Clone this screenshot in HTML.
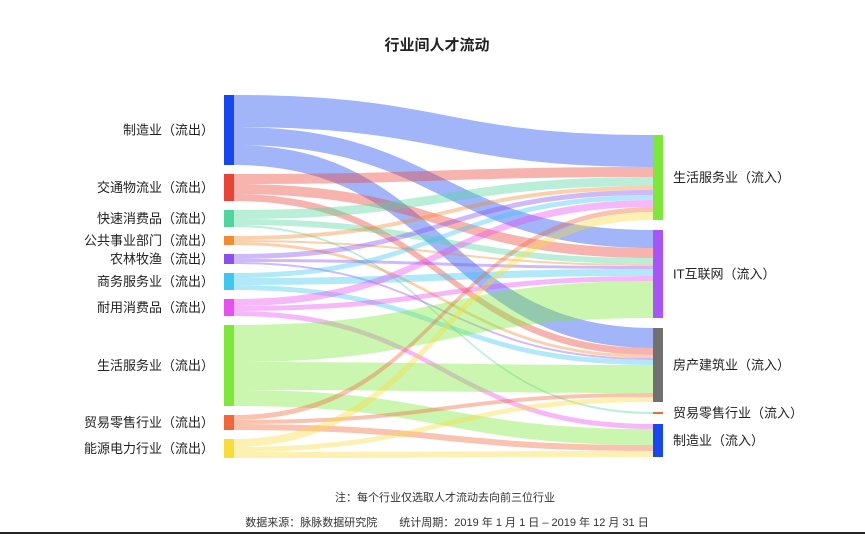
<!DOCTYPE html>
<html><head><meta charset="utf-8">
<style>
body{margin:0;background:#fff;width:865px;height:534px;overflow:hidden;font-family:"Liberation Sans","Noto Sans CJK SC",sans-serif;}
svg text{font-family:"Liberation Sans","Noto Sans CJK SC",sans-serif;}
</style></head>
<body>
<svg id="chart" width="865" height="534" viewBox="0 0 865 534" xmlns="http://www.w3.org/2000/svg">
<text x="437" y="50" text-anchor="middle" font-size="15" font-weight="bold" fill="#222">行业间人才流动</text>
<g id="links"></g>
<g id="nodes"></g>
<text x="445" y="501" text-anchor="middle" font-size="11" fill="#333">注：每个行业仅选取人才流动去向前三位行业</text>
<text x="447" y="526" text-anchor="middle" font-size="11" fill="#333">数据来源：脉脉数据研究院　　统计周期：2019 年 1 月 1 日 – 2019 年 12 月 31 日</text>
<rect x="0" y="532" width="865" height="2" fill="#222"/>
</svg>
<script>
const sources = ["制造业（流出）","交通物流业（流出）","快速消费品（流出）","公共事业部门（流出）","农林牧渔（流出）","商务服务业（流出）","耐用消费品（流出）","生活服务业（流出）","贸易零售行业（流出）","能源电力行业（流出）"];
const sourceColors = ["#1747ee","#ea4336","#4fd6a0","#f28c30","#8a4ff0","#3cc8f0","#e84ef0","#7ee83a","#f0683a","#f8dc3a"];
const targets = ["生活服务业（流入）","IT互联网（流入）","房产建筑业（流入）","贸易零售行业（流入）","制造业（流入）"];
const targetColors = ["#7ee83a","#a855f7","#707070","#f0683a","#1747ee"];
const linkSource = [0,0,0, 1,1,1, 2,2,2, 3,3,3, 4,4,4, 5,5,5, 6,6,6, 7,7,7, 8,8,8, 9,9,9];
const linkTarget = [0,1,2, 0,1,2, 0,1,3, 0,1,2, 0,1,2, 0,1,2, 0,1,4, 1,2,4, 0,2,4, 0,2,4];
const linkValue  = [32,18,20, 10,10,7, 9,6,2, 4,2,3, 5,3,2, 5,7,5, 7,5,5, 37,28,16, 5,4,6, 8,5,6];

const NS="http://www.w3.org/2000/svg";
const leftX=224, rightX=653, nodeW=10, leftTop=95, rightTop=135, leftGap=9, rightGap=10, k=1.0;
function sumFor(arr,i){let s=0;for(let j=0;j<linkValue.length;j++) if(arr[j]===i) s+=linkValue[j];return s;}
const sY=[],sH=[];let y=leftTop;
sources.forEach((n,i)=>{sY[i]=y;sH[i]=sumFor(linkSource,i)*k;y+=sH[i]+leftGap;});
const tY=[],tH=[];y=rightTop;
targets.forEach((n,i)=>{tY[i]=y;tH[i]=sumFor(linkTarget,i)*k;y+=tH[i]+rightGap;});
const sOff=sY.slice(), tOff=tY.slice();
const order=linkValue.map((v,i)=>i).sort((a,b)=>linkSource[a]-linkSource[b]||linkTarget[a]-linkTarget[b]);
const src={},tgt={};
order.forEach(i=>{src[i]=sOff[linkSource[i]];sOff[linkSource[i]]+=linkValue[i]*k;});
const order2=linkValue.map((v,i)=>i).sort((a,b)=>linkTarget[a]-linkTarget[b]||linkSource[a]-linkSource[b]);
order2.forEach(i=>{tgt[i]=tOff[linkTarget[i]];tOff[linkTarget[i]]+=linkValue[i]*k;});
const gL=document.getElementById('links');
const x0=leftX+nodeW,x1=rightX,xm=(x0+x1)/2;
linkValue.forEach((v,i)=>{
  const h=v*k,a=src[i],b=tgt[i];
  const p=document.createElementNS(NS,'path');
  p.setAttribute('d',`M${x0},${a}C${xm},${a} ${xm},${b} ${x1},${b}L${x1},${b+h}C${xm},${b+h} ${xm},${a+h} ${x0},${a+h}Z`);
  p.setAttribute('fill',sourceColors[linkSource[i]]);
  p.setAttribute('fill-opacity','0.4');
  
  
  gL.appendChild(p);
});
const gN=document.getElementById('nodes');
function node(x,yy,h,c,label,left,i){
  const r=document.createElementNS(NS,'rect');
  r.setAttribute('x',x);r.setAttribute('y',yy);r.setAttribute('width',nodeW);r.setAttribute('height',Math.max(h,2));r.setAttribute('fill',c);
  
  
  gN.appendChild(r);
  const t=document.createElementNS(NS,'text');
  t.setAttribute('x',left?x-10:x+nodeW+10);t.setAttribute('y',yy+h/2+4.5);
  t.setAttribute('text-anchor',left?'end':'start');t.setAttribute('font-size','13');t.setAttribute('fill','#222');
  t.textContent=label;
  
  
  gN.appendChild(t);
}
sources.forEach((n,i)=>node(leftX,sY[i],sH[i],sourceColors[i],n,true,i));
targets.forEach((n,i)=>node(rightX,tY[i],tH[i],targetColors[i],n,false,i));
</script>
</body></html>
